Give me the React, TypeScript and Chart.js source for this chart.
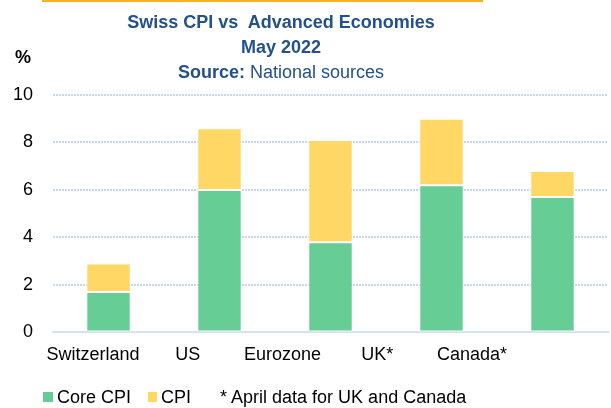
import React, { useEffect, useRef } from "react";
import { Chart, registerables } from "chart.js";

Chart.register(...registerables);

const categories = ["Switzerland", "US", "Eurozone", "UK*", "Canada*"];
const coreCpi = [1.7, 6.0, 3.8, 6.2, 5.7];
const headlineCpi = [2.9, 8.6, 8.1, 9.0, 6.8];
const yTicks = [0, 2, 4, 6, 8, 10];

const FONT = "'Liberation Sans', Arial, sans-serif";
const GREEN = "#66CD94";
const YELLOW = "#FFD765";
const TITLE_BLUE = "#23518B";

export default function App() {
  const ref = useRef<HTMLCanvasElement | null>(null);

  useEffect(() => {
    document.body.style.margin = "0";
    const ctx = ref.current!;
    const chart = new Chart(ctx, {
      type: "bar",
      data: {
        labels: categories,
        datasets: [
          {
            label: "Core CPI",
            data: coreCpi,
            backgroundColor: GREEN,
            borderColor: "rgba(255,255,255,0.9)",
            borderWidth: 1,
            borderSkipped: false,
            barPercentage: 0.4,
            categoryPercentage: 1,
          },
          {
            label: "CPI",
            data: coreCpi.map((c, i) => [c, headlineCpi[i]]) as any,
            backgroundColor: YELLOW,
            borderColor: "rgba(255,255,255,0.9)",
            borderWidth: 1,
            borderSkipped: false,
            barPercentage: 0.4,
            categoryPercentage: 1,
          },
        ],
      },
      options: {
        animation: false,
        responsive: false,
        maintainAspectRatio: false,
        layout: { padding: { top: 95, left: 13, right: 3, bottom: 30 } },
        plugins: {
          legend: { display: false },
          title: { display: false },
          tooltip: { enabled: false },
        },
        scales: {
          x: {
            stacked: true,
            grid: { display: false, drawTicks: false },
            border: { display: true, color: "#D3E1F1", width: 2 },
            ticks: { display: false },
            afterFit: (s: any) => {
              s.paddingLeft = 0;
              s.paddingRight = 0;
            },
          },
          xLabels: {
            type: "linear",
            axis: "x",
            position: "bottom",
            offset: false,
            min: -0.422,
            max: 5.435,
            grid: { display: false, drawTicks: false, offset: false },
            border: { display: false },
            afterBuildTicks: (axis: any) => {
              axis.ticks = categories.map((_, i) => ({ value: i }));
            },
            afterFit: (s: any) => {
              s.paddingLeft = 0;
              s.paddingRight = 0;
            },
            ticks: {
              color: "#000",
              font: { family: FONT, size: 18 },
              padding: 12,
              maxRotation: 0,
              autoSkip: false,
              callback: (v: any) => categories[v as number] ?? "",
            },
          },
          y: {
            stacked: false,
            min: 0,
            max: 10,
            z: 1,
            afterBuildTicks: (axis: any) => {
              axis.ticks = yTicks.map((v) => ({ value: v }));
            },
            afterFit: (s: any) => {
              s.width = 40;
            },
            grid: {
              color: "#C6D8EE",
              lineWidth: 2,
              drawTicks: false,
            },
            border: { display: false, dash: [2, 1] },
            ticks: {
              color: "#000",
              font: { family: FONT, size: 18 },
              padding: 20,
            },
          },
        } as any,
      },
    });
    return () => chart.destroy();
  }, []);

  return (
    <div
      style={{
        position: "absolute",
        left: 0,
        top: 0,
        width: 611,
        height: 408,
        background: "#fff",
        fontFamily: FONT,
      }}
    >
      <canvas ref={ref} width={611} height={408} style={{ display: "block" }} />
      <div
        style={{
          position: "absolute",
          left: 42,
          top: 0,
          width: 441,
          height: 2,
          background: "#F5B323",
        }}
      />
      <div
        style={{
          position: "absolute",
          left: 81,
          width: 400,
          top: 10,
          textAlign: "center",
          color: TITLE_BLUE,
          fontSize: 18,
          lineHeight: "25px",
          fontWeight: "bold",
          whiteSpace: "pre",
        }}
      >
        <div>{"Swiss CPI vs  Advanced Economies"}</div>
        <div>May 2022</div>
        <div>
          Source:<span style={{ fontWeight: "normal" }}> National sources</span>
        </div>
      </div>
      <div
        style={{
          position: "absolute",
          left: 15,
          top: 47,
          fontSize: 18,
          fontWeight: "bold",
          color: "#000",
        }}
      >
        %
      </div>
      <div
        style={{
          position: "absolute",
          left: 43,
          top: 386,
          fontSize: 18,
          lineHeight: "22px",
          color: "#000",
          display: "flex",
          alignItems: "center",
          whiteSpace: "pre",
        }}
      >
        <span style={{ width: 10, height: 10, background: GREEN, display: "inline-block" }} />
        <span style={{ marginLeft: 4 }}>Core CPI</span>
        <span
          style={{ width: 9, height: 10, background: YELLOW, display: "inline-block", marginLeft: 17 }}
        />
        <span style={{ marginLeft: 4 }}>CPI</span>
        <span style={{ marginLeft: 29 }}>* April data for UK and Canada</span>
      </div>
    </div>
  );
}
